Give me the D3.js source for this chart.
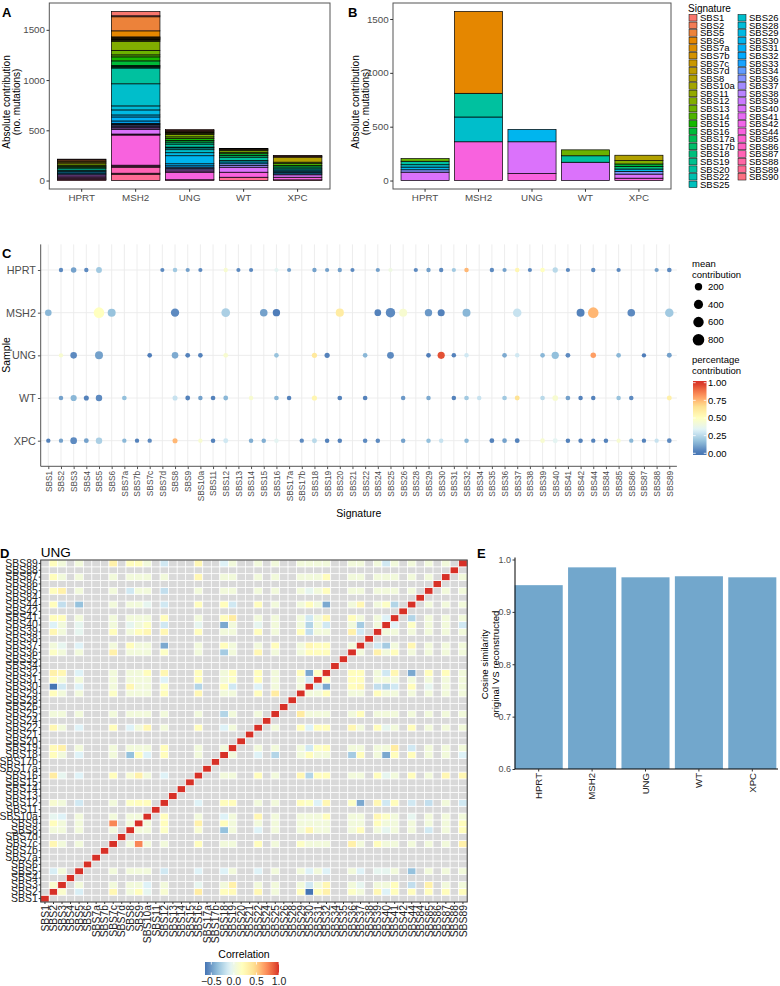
<!DOCTYPE html>
<html><head><meta charset="utf-8">
<script src="https://cdn.jsdelivr.net/npm/d3@7"></script>
<style>
body{margin:0;background:#fff}
svg{display:block}
text{font-family:"Liberation Sans",Arial,Helvetica,sans-serif}
</style>
</head><body>
<svg id="fig" width="780" height="986"></svg>
<script>
// ---------------- DATA ----------------
const samples = ["HPRT","MSH2","UNG","WT","XPC"];

// legend / stack order for panels A and B
const sigLegend = ["SBS1","SBS2","SBS5","SBS6","SBS7a","SBS7b","SBS7c","SBS7d","SBS8","SBS10a",
 "SBS11","SBS12","SBS13","SBS14","SBS15","SBS16","SBS17a","SBS17b","SBS18","SBS19",
 "SBS20","SBS22","SBS25","SBS26","SBS28","SBS29","SBS30","SBS31","SBS32","SBS33",
 "SBS34","SBS36","SBS37","SBS38","SBS39","SBS40","SBS41","SBS42","SBS44","SBS85",
 "SBS86","SBS87","SBS88","SBS89","SBS90"];

// Panel A: absolute contribution (aligned with sigLegend)
const absA_HPRT = [8,0,12,0,0,0,10,0,16,0, 0,15,12,0,0,12,0,11,0,0, 17,0,0,0,0,10,13,0,10,0, 0,10,0,0,12,12,0,0,13,0, 0,10,0,10,0];
const absA_MSH2 = [43,10,140,60,6,5,6,5,6,6, 10,90,45,20,40,45,8,8,10,0, 157,0,0,220,40,50,20,40,23,8, 8,11,10,10,15,45,5,5,300,10, 10,60,10,63,0];
const absA_UNG  = [10,5,9,0,0,0,0,0,8,8, 7,25,18,0,17,17,0,0,20,0, 30,8,18,30,0,30,80,20,14,0, 0,13,13,0,12,12,0,0,75,0, 0,8,0,0,0];
const absA_WT   = [5,0,5,0,0,0,0,0,10,0, 0,18,0,15,0,17,0,17,0,0, 33,0,0,15,0,0,18,0,0,0, 0,17,17,0,0,50,0,0,50,0, 0,0,0,33,0];
const absA_XPC  = [8,0,9,0,0,0,0,0,50,0, 0,15,0,18,0,15,0,0,18,0, 0,0,12,0,0,12,13,0,13,0, 0,10,0,0,0,24,0,0,26,0, 0,0,0,7,0];

// Panel B: absolute contribution, strict refit (aligned with sigLegend)
const absB_HPRT = [0,0,0,0,0,0,0,0,0,0, 0,0,25,0,0,0,0,0,0,0, 32,0,0,22,0,0,25,0,0,0, 0,22,0,0,0,78,0,0,0,0, 0,0,0,0,0];
const absB_MSH2 = [0,0,0,760,0,0,0,0,0,0, 0,0,0,0,0,0,0,0,0,0, 220,0,0,230,0,0,0,0,0,0, 0,0,0,0,0,0,0,0,360,0, 0,0,0,0,0];
const absB_UNG  = [0,0,0,0,0,0,0,0,0,0, 0,0,0,0,0,0,0,0,0,0, 0,0,0,0,0,0,115,0,0,0, 0,0,0,0,0,295,0,0,65,0, 0,0,0,0,0];
const absB_WT   = [0,0,0,0,0,0,0,0,0,0, 0,0,55,0,0,0,0,0,0,0, 60,0,0,0,0,0,0,0,0,0, 0,0,0,0,0,170,0,0,0,0, 0,0,0,0,0];
const absB_XPC  = [0,0,0,0,0,0,0,0,50,0, 0,31,0,0,0,22,0,0,25,0, 0,0,0,0,0,22,0,0,0,0, 0,25,0,0,0,38,0,0,22,0, 0,0,0,0,0];

// Panel C / D signature axis
const sigsC = ["SBS1","SBS2","SBS3","SBS4","SBS5","SBS6","SBS7a","SBS7b","SBS7c","SBS7d",
 "SBS8","SBS9","SBS10a","SBS11","SBS12","SBS13","SBS14","SBS15","SBS16","SBS17a",
 "SBS17b","SBS18","SBS19","SBS20","SBS21","SBS22","SBS24","SBS25","SBS26","SBS28",
 "SBS29","SBS30","SBS31","SBS32","SBS34","SBS35","SBS36","SBS37","SBS38","SBS39",
 "SBS40","SBS41","SBS42","SBS44","SBS84","SBS85","SBS86","SBS87","SBS88","SBS89"];

// Panel C: [signature, mean contribution, percentage contribution]
const dotsHPRT = [["SBS2",15,0.05],["SBS3",60,0.1],["SBS4",15,0.05],["SBS5",80,0.2],["SBS7d",10,0.05],["SBS8",20,0.2],["SBS9",12,0.1],["SBS10a",10,0.05],["SBS12",15,0.45],["SBS13",10,0.05],["SBS14",10,0.05],["SBS16",12,0.35],["SBS17a",10,0.1],["SBS18",15,0.1],["SBS19",12,0.1],["SBS20",15,0.1],["SBS21",10,0.05],["SBS24",12,0.1],["SBS25",12,0.4],["SBS28",12,0.05],["SBS29",15,0.1],["SBS30",15,0.05],["SBS31",12,0.2],["SBS32",20,0.75],["SBS35",15,0.05],["SBS36",12,0.1],["SBS37",20,0.55],["SBS38",10,0.05],["SBS39",25,0.5],["SBS40",50,0.25],["SBS41",12,0.05],["SBS44",15,0.05],["SBS85",12,0.05],["SBS88",12,0.1],["SBS89",25,0.05]];
const dotsMSH2 = [["SBS1",130,0.15],["SBS5",625,0.5],["SBS6",263,0.18],["SBS8",300,0.05],["SBS12",340,0.22],["SBS15",220,0.1],["SBS16",200,0.02],["SBS20",280,0.6],["SBS24",140,0.03],["SBS25",440,0.05],["SBS26",260,0.45],["SBS29",200,0.08],["SBS30",170,0.03],["SBS32",260,0.15],["SBS37",320,0.28],["SBS42",260,0.03],["SBS44",625,0.75],["SBS86",220,0.05],["SBS89",320,0.2]];
const dotsUNG = [["SBS2",15,0.45],["SBS3",130,0.05],["SBS5",260,0.1],["SBS7c",25,0.02],["SBS8",130,0.12],["SBS9",30,0.03],["SBS10a",25,0.03],["SBS12",30,0.45],["SBS16",25,0.18],["SBS18",45,0.62],["SBS19",45,0.03],["SBS22",25,0.15],["SBS25",150,0.05],["SBS29",25,0.02],["SBS30",180,0.95],["SBS31",20,0.03],["SBS32",20,0.3],["SBS36",25,0.12],["SBS37",20,0.3],["SBS39",25,0.15],["SBS40",190,0.17],["SBS41",30,0.05],["SBS44",60,0.8],["SBS85",25,0.15],["SBS87",15,0.02],["SBS89",35,0.1]];
const dotsWT = [["SBS2",20,0.1],["SBS3",100,0.15],["SBS4",40,0.03],["SBS5",120,0.05],["SBS7a",25,0.17],["SBS8",40,0.28],["SBS9",30,0.03],["SBS10a",20,0.1],["SBS11",25,0.03],["SBS12",30,0.15],["SBS14",20,0.45],["SBS16",25,0.15],["SBS17a",20,0.03],["SBS18",45,0.55],["SBS20",25,0.03],["SBS22",25,0.03],["SBS26",20,0.08],["SBS29",20,0.12],["SBS31",20,0.03],["SBS32",25,0.2],["SBS34",20,0.28],["SBS36",25,0.2],["SBS37",35,0.65],["SBS39",25,0.25],["SBS40",70,0.45],["SBS41",25,0.1],["SBS42",20,0.03],["SBS44",20,0.03],["SBS85",20,0.18],["SBS86",20,0.05],["SBS89",35,0.58]];
const dotsXPC = [["SBS1",15,0.03],["SBS2",15,0.1],["SBS3",140,0.05],["SBS4",30,0.1],["SBS5",120,0.22],["SBS7a",15,0.15],["SBS7b",15,0.03],["SBS7c",15,0.05],["SBS8",40,0.75],["SBS10a",15,0.45],["SBS11",20,0.03],["SBS12",35,0.3],["SBS14",20,0.13],["SBS15",20,0.13],["SBS16",20,0.35],["SBS17b",15,0.05],["SBS18",35,0.25],["SBS19",20,0.03],["SBS20",20,0.03],["SBS22",20,0.05],["SBS24",20,0.05],["SBS26",20,0.1],["SBS29",20,0.17],["SBS30",20,0.28],["SBS32",20,0.15],["SBS35",30,0.03],["SBS36",25,0.1],["SBS37",30,0.03],["SBS39",25,0.45],["SBS40",35,0.35],["SBS41",20,0.03],["SBS42",20,0.03],["SBS44",15,0.03],["SBS84",20,0.03],["SBS85",15,0.45],["SBS86",15,0.15],["SBS87",15,0.03],["SBS88",15,0.28],["SBS89",25,0.05]];
const sizeBreaks = [200,400,600,800];
const pctBreaks = [0,0.25,0.5,0.75,1];

// Panel D: correlation among signatures used in UNG (lower triangle, row k vs earlier ones)
const corSigsUNG = ["SBS2","SBS3","SBS5","SBS7c","SBS8","SBS9","SBS10a","SBS12","SBS16","SBS18","SBS19","SBS22","SBS25","SBS29","SBS30","SBS31","SBS32","SBS36","SBS37","SBS39","SBS40","SBS41","SBS44","SBS85","SBS87","SBS89"];
const corUNG = [
 [0.12],
 [-0.12,0.05],
 [0.25,0.05,0.05],
 [0.05,0.05,0.05,0.05],
 [0.2,0.05,0.05,0.75,0.05],
 [-0.05,-0.1,0.05,0.05,0.05,0.05],
 [0.1,0.05,-0.15,0.05,0.15,0.2,0.2],
 [0.35,-0.05,-0.1,0.2,0.1,0.3,0.05,-0.1],
 [0.2,0.05,-0.1,0.05,-0.35,0.2,-0.1,0.2,0.05],
 [0.22,0.3,0.05,0.05,0.05,0.05,0.05,0.2,0.05,0.05],
 [0.25,0.05,-0.1,0.2,-0.1,0.05,0.25,0.05,0.2,-0.1,0.05],
 [0.05,0.05,0.05,0.05,0.05,0.05,0.05,0.05,0.05,-0.25,0.05,0.05],
 [0.2,0.05,0.05,0.15,0.05,0.05,0.05,0.2,0.25,0.05,0.05,0.2,0.35],
 [-0.64,-0.15,-0.1,0.05,0.25,0.05,0.05,0.15,-0.25,0.2,-0.15,-0.1,0.05,0.05],
 [0.2,0.05,0.05,0.05,0.05,0.05,0.05,-0.1,0.2,0.05,0.15,0.2,0.05,0.05,-0.15],
 [0.3,0.25,-0.1,0.05,0.05,0.05,0.2,0.25,0.2,0.05,0.2,0.2,0.05,0.2,-0.45,0.15],
 [0.15,0.05,0.05,0.3,0.05,0.05,0.05,0.15,0.05,-0.3,0.05,0.25,0.05,0.05,0.2,0.2,0.2],
 [0.05,-0.05,-0.1,0.05,0.2,0.05,0.05,-0.45,0.05,0.2,0.05,0.05,0.2,0.05,0.25,0.2,0.2,0.05],
 [0.25,0.05,-0.05,0.2,0.05,0.2,0.25,0.25,0.2,0.05,0.05,0.2,0.05,0.2,-0.2,0.05,0.05,0.3,-0.15],
 [-0.1,0.05,-0.05,0.05,-0.05,0.05,0.15,-0.15,-0.05,-0.45,0.05,-0.05,0.05,0.05,-0.25,0.05,-0.15,0.05,-0.3,0.05],
 [0.2,0.2,0.05,0.05,0.05,0.05,0.05,0.2,0.05,0.2,0.35,0.05,0.05,0.05,-0.15,0.05,0.25,0.2,0.05,0.05,-0.1],
 [0.2,-0.2,-0.35,0.05,0.05,0.05,-0.05,-0.15,0.2,0.2,-0.15,0.2,0.05,0.05,0.2,0.05,-0.45,0.05,0.25,0.05,0.15,-0.25],
 [0.2,0.3,0.05,0.05,-0.15,0.05,0.05,-0.2,0.05,0.05,0.05,0.05,0.05,0.05,-0.05,0.05,0.2,0.05,0.05,0.05,0.05,0.05,0.05],
 [0.2,0.05,0.05,0.05,0.05,0.05,0.05,0.05,0.25,0.05,0.05,0.05,0.05,0.05,0.05,0.05,0.2,0.05,0.05,0.05,0.05,0.05,0.05,0.05],
 [0.2,0.05,0.05,0.3,0.2,0.2,0.05,-0.15,0.25,-0.1,0.05,0.05,0.05,0.05,0.05,0.05,0.05,0.05,0.05,0.05,-0.15,0.05,0.05,0.05,0.05]
];
const corBreaks = [-0.5,0,0.5,1];

// Panel E: cosine similarity original vs reconstructed
const cosineSim = [0.951, 0.985, 0.966, 0.968, 0.966];
const cosTicks = [0.6,0.7,0.8,0.9,1.0];

// ---------------- HELPERS ----------------
const FONT_GREY = "#4d4d4d";
function hclHex(h, c, l){
  const hr = h*Math.PI/180, U = c*Math.cos(hr), V = c*Math.sin(hr);
  const Xn=95.047, Yn=100, Zn=108.883;
  const Y = l > 8 ? Yn*Math.pow((l+16)/116,3) : Yn*l/903.3;
  const t = Xn + 15*Yn + 3*Zn, un = 4*Xn/t, vn = 9*Yn/t;
  const up = U/(13*l)+un, vp = V/(13*l)+vn;
  const X = 9*Y*up/(4*vp), Z = -X/3 - 5*Y + 3*Y/vp;
  const x=X/100, y=Y/100, z=Z/100;
  const lin = [3.240479*x-1.537150*y-0.498535*z, -0.969256*x+1.875992*y+0.041556*z, 0.055648*x-0.204043*y+1.057311*z];
  const g = lin.map(v => { v = v<=0.0031308 ? 12.92*v : 1.055*Math.pow(v,1/2.4)-0.055; return Math.round(Math.max(0,Math.min(1,v))*255); });
  return d3.rgb(g[0],g[1],g[2]).formatHex();
}
const hueColors = sigLegend.map((s,i) => hclHex(15 + i*360/sigLegend.length, 100, 65));
const sigColor = d3.scaleOrdinal().domain(sigLegend).range(hueColors);
const rdylbu = ["#4575b4","#91bfdb","#e0f3f8","#ffffbf","#fee090","#fc8d59","#d73027"];

const svg = d3.select("#fig");
function tag(x,y,t){ svg.append("text").attr("x",x).attr("y",y).attr("font-size",13).attr("font-weight","bold").text(t); }

// ---------------- PANELS A & B ----------------
function stackedPanel(data, x0, x1, y0, y1, titleX){
  const g = svg.append("g");
  const x = d3.scaleBand().domain(samples).range([x0,x1]).paddingInner(0.1).paddingOuter(0.15);
  const totals = samples.map((s,i)=>d3.sum(data[i]));
  const mx = d3.max(totals);
  const y = d3.scaleLinear().domain([-0.05*mx, 1.05*mx]).range([y1,y0]);
  samples.forEach((s,si)=>{
    let base = 0;
    for(let k=sigLegend.length-1;k>=0;k--){
      const v = data[si][k];
      if(v<=0) continue;
      g.append("rect").attr("x",x(s)).attr("width",x.bandwidth())
        .attr("y",y(base+v)).attr("height",y(base)-y(base+v))
        .attr("fill",sigColor(sigLegend[k])).attr("stroke","#000").attr("stroke-width",0.7);
      base += v;
    }
  });
  g.append("rect").attr("x",x0).attr("y",y0).attr("width",x1-x0).attr("height",y1-y0)
    .attr("fill","none").attr("stroke","#555").attr("stroke-width",1);
  const ya = g.append("g").attr("transform",`translate(${x0},0)`)
    .call(d3.axisLeft(y).tickValues([0,500,1000,1500]).tickSize(2.8).tickPadding(1.5).tickFormat(d3.format("d")));
  ya.select(".domain").remove();
  ya.selectAll("text").attr("font-size",9.8).attr("fill",FONT_GREY).style("font-family",'"Liberation Sans",Arial,sans-serif');
  ya.selectAll("line").attr("stroke","#333");
  const xa = g.append("g").attr("transform",`translate(0,${y1})`)
    .call(d3.axisBottom(x).tickSize(2.8).tickPadding(2));
  xa.select(".domain").remove();
  xa.selectAll("text").attr("font-size",9.8).attr("fill",FONT_GREY).style("font-family",'"Liberation Sans",Arial,sans-serif');
  xa.selectAll("line").attr("stroke","#333");
  const cy = 102;
  g.append("text").attr("transform",`translate(${titleX},${cy}) rotate(-90)`).attr("text-anchor","middle").attr("font-size",10).text("Absolute contribution");
  g.append("text").attr("transform",`translate(${titleX+10},${cy}) rotate(-90)`).attr("text-anchor","middle").attr("font-size",10).text("(no. mutations)");
}
stackedPanel([absA_HPRT,absA_MSH2,absA_UNG,absA_WT,absA_XPC], 49.3, 330, 3, 189, 10);
stackedPanel([absB_HPRT,absB_MSH2,absB_UNG,absB_WT,absB_XPC], 393, 671, 3, 189, 358.5);
tag(2,17,"A"); tag(348,17,"B");

// legend
{
  const g = svg.append("g");
  g.append("text").attr("x",688).attr("y",11.5).attr("font-size",10).text("Signature");
  const rows = 23, step = 7.57, top = 14;
  sigLegend.forEach((s,i)=>{
    const col = i < rows ? 0 : 1, r = i < rows ? i : i - rows;
    const kx = col===0 ? 689 : 738;
    const yy = top + r*step;
    g.append("rect").attr("x",kx).attr("y",yy+0.5).attr("width",8).attr("height",step-1)
      .attr("fill",sigColor(s)).attr("stroke","#000").attr("stroke-width",0.5);
    g.append("text").attr("x",kx+11).attr("y",yy+step/2).attr("dy","0.36em").attr("font-size",9.5).text(s);
  });
}

// ---------------- PANEL C ----------------
{
  const g = svg.append("g");
  const L=40.7, R=676.9, T=244.4, B=466.3;
  const x = d3.scalePoint().domain(sigsC).range([L,R]).padding(0.6);
  const y = d3.scalePoint().domain(samples).range([T,B]).padding(0.6);
  const r = d3.scaleSqrt().domain([0,800]).range([1.6,5.79]);
  const col = d3.scaleLinear().domain(rdylbu.map((c,i)=>i/(rdylbu.length-1))).range(rdylbu).interpolate(d3.interpolateLab).clamp(true);
  sigsC.forEach(s=>g.append("line").attr("x1",x(s)).attr("x2",x(s)).attr("y1",T).attr("y2",B).attr("stroke","#ebebeb").attr("stroke-width",0.9));
  samples.forEach(s=>g.append("line").attr("x1",L).attr("x2",R).attr("y1",y(s)).attr("y2",y(s)).attr("stroke","#ebebeb").attr("stroke-width",0.9));
  const all = [dotsHPRT,dotsMSH2,dotsUNG,dotsWT,dotsXPC];
  samples.forEach((s,i)=>{
    all[i].forEach(d=>{
      g.append("circle").attr("cx",x(d[0])).attr("cy",y(s)).attr("r",r(d[1])).attr("fill",col(d[2]));
    });
  });
  const xa = g.append("g").attr("transform",`translate(0,${B})`).call(d3.axisBottom(x).tickSize(2.8).tickSizeOuter(0));
  xa.select(".domain").attr("stroke","#555").attr("d",`M${L},0H${R}`);
  xa.selectAll("line").attr("stroke","#555");
  xa.selectAll("text").attr("font-size",8.3).attr("fill",FONT_GREY).style("font-family",'"Liberation Sans",Arial,sans-serif')
    .attr("text-anchor","end").attr("transform","rotate(-90)").attr("x",-4.5).attr("y",0).attr("dy","0.35em");
  const ya = g.append("g").attr("transform",`translate(${L},0)`).call(d3.axisLeft(y).tickSize(2.8).tickSizeOuter(0).tickPadding(2));
  ya.select(".domain").attr("stroke","#555").attr("d",`M0,${T}V${B}`);
  ya.selectAll("line").attr("stroke","#555");
  ya.selectAll("text").attr("font-size",10.8).attr("fill",FONT_GREY).style("font-family",'"Liberation Sans",Arial,sans-serif');
  g.append("text").attr("x",(L+R)/2).attr("y",517).attr("text-anchor","middle").attr("font-size",10.5).text("Signature");
  g.append("text").attr("transform",`translate(10,355) rotate(-90)`).attr("text-anchor","middle").attr("font-size",10.5).text("Sample");
  // size legend
  g.append("text").attr("x",692).attr("y",266.5).attr("font-size",9.5).text("mean");
  g.append("text").attr("x",692).attr("y",278).attr("font-size",9.5).text("contribution");
  sizeBreaks.forEach((b,i)=>{
    const cy = 286.7 + i*17.7;
    g.append("circle").attr("cx",698.5).attr("cy",cy).attr("r",r(b)).attr("fill","#000");
    g.append("text").attr("x",708).attr("y",cy).attr("dy","0.35em").attr("font-size",9.5).text(b);
  });
  // colour legend
  g.append("text").attr("x",692).attr("y",362.5).attr("font-size",9.5).text("percentage");
  g.append("text").attr("x",692).attr("y",373.5).attr("font-size",9.5).text("contribution");
  const cbT=381, cbB=455, cbL=693, cbW=13.5;
  const cy = d3.scaleLinear().domain([0,1]).range([453.3,382.7]);
  const grad = svg.append("defs").append("linearGradient").attr("id","gradC").attr("x1",0).attr("x2",0).attr("y1",1).attr("y2",0);
  d3.range(0,1.0001,0.05).forEach(t=>{
    const v = cy.invert(cbB + (cbT-cbB)*t);
    grad.append("stop").attr("offset",t).attr("stop-color",col(v));
  });
  g.append("rect").attr("x",cbL).attr("y",cbT).attr("width",cbW).attr("height",cbB-cbT).attr("fill","url(#gradC)");
  pctBreaks.forEach(b=>{
    g.append("line").attr("x1",cbL).attr("x2",cbL+2.7).attr("y1",cy(b)).attr("y2",cy(b)).attr("stroke","#fff").attr("stroke-width",0.8);
    g.append("line").attr("x1",cbL+cbW-2.7).attr("x2",cbL+cbW).attr("y1",cy(b)).attr("y2",cy(b)).attr("stroke","#fff").attr("stroke-width",0.8);
    g.append("text").attr("x",708).attr("y",cy(b)).attr("dy","0.35em").attr("font-size",9.5).text(d3.format(".2f")(b));
  });
}
tag(2,258,"C");

// ---------------- PANEL D ----------------
{
  const g = svg.append("g");
  const L=40.7, R=467.2, T=560, B=902;
  const x = d3.scaleBand().domain(sigsC).range([L,R]);
  const y = d3.scaleBand().domain(sigsC).range([B,T]);
  const idx = new Map(corSigsUNG.map((s,i)=>[s,i]));
  function corVal(a,b){
    if(a===b) return 1;
    if(!idx.has(a)||!idx.has(b)) return null;
    const ia=idx.get(a), ib=idx.get(b);
    const rr=Math.max(ia,ib), cc=Math.min(ia,ib);
    return corUNG[rr-1][cc];
  }
  const allVals = corUNG.flat().concat([1]);
  const mn = d3.min(allVals), mxv = 1;
  const col = d3.scaleLinear().domain(rdylbu.map((c,i)=>mn + (mxv-mn)*i/(rdylbu.length-1))).range(rdylbu).interpolate(d3.interpolateLab).clamp(true);
  sigsC.forEach(a=>{
    sigsC.forEach(b=>{
      const v = corVal(a,b);
      g.append("rect").attr("x",x(b)).attr("y",y(a)).attr("width",x.bandwidth()).attr("height",y.bandwidth())
        .attr("fill", v===null ? "#d9d9d9" : col(v)).attr("stroke","#fff").attr("stroke-width",0.7);
    });
  });
  g.append("rect").attr("x",L).attr("y",T).attr("width",R-L).attr("height",B-T).attr("fill","none").attr("stroke","#333").attr("stroke-width",1);
  const xa = g.append("g").attr("transform",`translate(0,${B})`).call(d3.axisBottom(x).tickSize(2).tickSizeOuter(0));
  xa.select(".domain").remove();
  xa.selectAll("line").attr("stroke","#333");
  xa.selectAll("text").attr("font-size",10.4).attr("fill","#222").style("font-family",'"Liberation Sans",Arial,sans-serif')
    .attr("text-anchor","end").attr("transform","rotate(-90)").attr("x",-3).attr("y",0).attr("dy","0.36em");
  const ya = g.append("g").attr("transform",`translate(${L},0)`).call(d3.axisLeft(y).tickSize(2).tickSizeOuter(0).tickPadding(1));
  ya.select(".domain").remove();
  ya.selectAll("line").attr("stroke","#333");
  ya.selectAll("text").attr("font-size",10.4).attr("fill","#222").style("font-family",'"Liberation Sans",Arial,sans-serif');
  g.append("text").attr("x",L).attr("y",557).attr("font-size",13.5).text("UNG");
  // legend
  g.append("text").attr("x",244).attr("y",958).attr("text-anchor","middle").attr("font-size",10.5).text("Correlation");
  const cbL=205, cbR=279, cbT=962, cbB=975;
  const cx = d3.scaleLinear().domain([mn,mxv]).range([cbL,cbR]);
  const grad = svg.append("defs").append("linearGradient").attr("id","gradD").attr("x1",0).attr("x2",1).attr("y1",0).attr("y2",0);
  d3.range(0,1.0001,0.05).forEach(t=>grad.append("stop").attr("offset",t).attr("stop-color",col(cx.invert(cbL+(cbR-cbL)*t))));
  g.append("rect").attr("x",cbL).attr("y",cbT).attr("width",cbR-cbL).attr("height",cbB-cbT).attr("fill","url(#gradD)");
  corBreaks.forEach(b=>{
    g.append("line").attr("x1",cx(b)).attr("x2",cx(b)).attr("y1",cbT).attr("y2",cbT+2.5).attr("stroke","#fff").attr("stroke-width",0.8);
    g.append("line").attr("x1",cx(b)).attr("x2",cx(b)).attr("y1",cbB-2.5).attr("y2",cbB).attr("stroke","#fff").attr("stroke-width",0.8);
    g.append("text").attr("x",cx(b)).attr("y",985).attr("text-anchor","middle").attr("font-size",10.5).attr("fill","#222")
      .text(b<0 ? "\u2212"+d3.format(".1f")(-b) : d3.format(".1f")(b));
  });
}
tag(0,558,"D");

// ---------------- PANEL E ----------------
{
  const g = svg.append("g");
  const L=515, T=559.5, B=769;
  const x = d3.scaleBand().domain(samples).range([512,779]).paddingInner(0.1).paddingOuter(0.05);
  const y = d3.scaleLinear().domain([0.6,1.0]).range([B,T]);
  samples.forEach((s,i)=>{
    g.append("rect").attr("x",x(s)).attr("width",x.bandwidth()).attr("y",y(cosineSim[i])).attr("height",B-y(cosineSim[i])).attr("fill","#72a7cc");
  });
  const ya = g.append("g").attr("transform",`translate(${L},0)`).call(d3.axisLeft(y).tickValues(cosTicks).tickSize(2.5).tickPadding(1.5).tickFormat(d3.format(".1f")).tickSizeOuter(0));
  ya.select(".domain").attr("stroke","#000").attr("d",`M0,${T-2}V${B}`);
  ya.selectAll("line").attr("stroke","#333");
  ya.selectAll("text").attr("font-size",9).attr("fill",FONT_GREY).style("font-family",'"Liberation Sans",Arial,sans-serif');
  const xa = g.append("g").attr("transform",`translate(0,${B})`).call(d3.axisBottom(x).tickSize(2.5).tickSizeOuter(0));
  xa.select(".domain").attr("stroke","#000").attr("d",`M${L},0H778`);
  xa.selectAll("line").attr("stroke","#333");
  xa.selectAll("text").attr("font-size",9.6).attr("fill","#222").style("font-family",'"Liberation Sans",Arial,sans-serif')
    .attr("text-anchor","end").attr("transform","rotate(-90)").attr("x",-4).attr("y",0).attr("dy","0.35em");
  const cyy = (T+B)/2;
  g.append("text").attr("transform",`translate(488,${cyy}) rotate(-90)`).attr("text-anchor","middle").attr("font-size",9.6).text("Cosine similarity");
  g.append("text").attr("transform",`translate(498.5,${cyy}) rotate(-90)`).attr("text-anchor","middle").attr("font-size",9.6).text("original VS reconstructed");
}
tag(477,558,"E");
</script>
</body></html>
